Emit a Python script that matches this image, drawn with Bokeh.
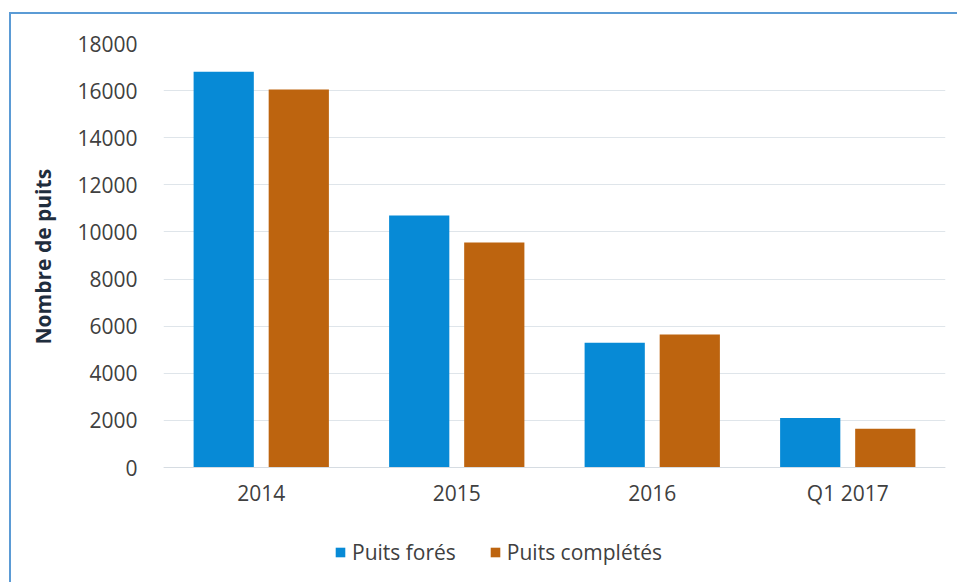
from bokeh.plotting import figure
from bokeh.models import (FactorRange, Range1d, FixedTicker, Legend, LegendItem,
                          ColumnDataSource)
from bokeh.transform import dodge
from bokeh.embed import file_html
from bokeh.resources import INLINE

categories = ["2014", "2015", "2016", "Q1 2017"]
puits_fores = [16800, 10700, 5300, 2100]
puits_completes = [16050, 9550, 5650, 1650]
y_ticks = [0, 2000, 4000, 6000, 8000, 10000, 12000, 14000, 16000, 18000]
series_names = ["Puits forés", "Puits complétés"]
y_title = "Nombre de puits"

FONT = "Open Sans"
FS = "21px"

# layout: frame spans from 18000 gridline down to the bottom of the figure,
# with the category axis fixed at y = 0 and the legend drawn under it.
Y_MAX = 18000
FRAME_H = 541          # pixels from the top gridline to the figure bottom
ZERO_TO_TOP = 424      # pixels from 0 to 18000
Y_MIN = -Y_MAX * (FRAME_H - ZERO_TO_TOP) / ZERO_TO_TOP
# the axis title is centred on the whole frame; lead it with no-break spaces
# so that its visible part is centred on the 0..18000 span instead
TITLE_PAD = "\u00a0" * 21

src = ColumnDataSource(dict(cat=categories, fores=puits_fores, completes=puits_completes))

p = figure(width=948, height=570, x_range=FactorRange(*categories, range_padding=0),
           y_range=Range1d(Y_MIN, Y_MAX), output_backend="svg", toolbar_location=None,
           min_border_left=152, min_border_right=14, min_border_top=29, min_border_bottom=0)
p.margin = (12, 0, 0, 9)
p.styles = {"border-top": "2px solid #5b9bd5", "border-left": "2px solid #5b9bd5"}
p.outline_line_color = None
p.background_fill_color = "white"
p.border_fill_color = "white"

r1 = p.vbar(x=dodge("cat", -0.192, range=p.x_range), top="fores", width=0.308, bottom=0,
            source=src, fill_color="#078ad6", line_color=None)
r2 = p.vbar(x=dodge("cat", 0.192, range=p.x_range), top="completes", width=0.308, bottom=0,
            source=src, fill_color="#bd640f", line_color=None)

# y axis
p.yaxis.ticker = FixedTicker(ticks=y_ticks)
p.yaxis.bounds = (y_ticks[0], y_ticks[-1])
p.yaxis.axis_line_color = None
p.yaxis.major_tick_line_color = None
p.yaxis.major_tick_out = 0
p.yaxis.major_tick_in = 0
p.yaxis.minor_tick_line_color = None
p.yaxis.major_label_standoff = 26
p.yaxis.major_label_text_font = FONT
p.yaxis.major_label_text_font_size = FS
p.yaxis.major_label_text_color = "#404040"
p.yaxis.axis_label = TITLE_PAD + y_title
p.yaxis.axis_label_text_font = FONT
p.yaxis.axis_label_text_font_style = "bold"
p.yaxis.axis_label_text_font_size = FS
p.yaxis.axis_label_text_color = "#1f2d3d"
p.yaxis.axis_label_standoff = 17

# x axis fixed at y = 0
p.xaxis.fixed_location = 0
p.xaxis.axis_line_color = "#d6dce2"
p.xaxis.major_tick_line_color = None
p.xaxis.major_tick_out = 0
p.xaxis.major_tick_in = 0
p.xaxis.minor_tick_line_color = None
p.xaxis.major_label_standoff = 11
p.xaxis.major_label_text_font = FONT
p.xaxis.major_label_text_font_size = FS
p.xaxis.major_label_text_color = "#404040"

p.xgrid.grid_line_color = None
p.ygrid.grid_line_color = "#dfe5ea"
p.ygrid.grid_line_width = 1

legend = Legend(items=[LegendItem(label=series_names[0], renderers=[r1]),
                       LegendItem(label=series_names[1], renderers=[r2])],
                orientation="horizontal", location=(171, 18),
                glyph_width=12, glyph_height=12, label_standoff=6, spacing=33,
                padding=0, margin=0, border_line_color=None, background_fill_alpha=0,
                label_text_font=FONT, label_text_font_size=FS, label_text_color="#404040")
p.add_layout(legend)

open("out.html", "w").write(file_html(p, INLINE))
